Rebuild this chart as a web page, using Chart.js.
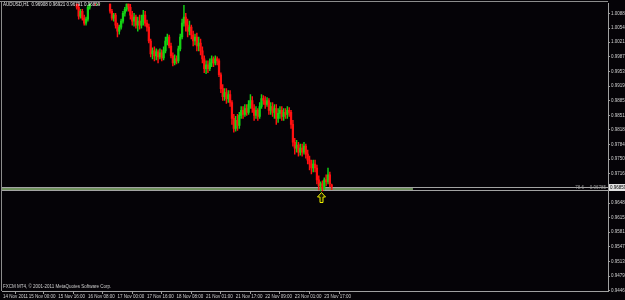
<!DOCTYPE html>
<html>
<head>
<meta charset="utf-8">
<script src="https://cdn.jsdelivr.net/npm/chart.js@4.4.1/dist/chart.umd.min.js"></script>
<style>
  html, body { margin: 0; padding: 0; background: #050307; }
  canvas { display: block; }
</style>
</head>
<body>
<canvas id="chart" width="625" height="300" style="width:625px;height:300px"></canvas>
<script>
// AUDUSD H1, 14-23 Nov 2011
const symbolTitle = 'AUDUSD,H1  0.96908 0.96921 0.96791 0.96859';
const copyrightText = 'FXCM MT4, \u00a9 2001-2011 MetaQuotes Software Corp.';

const firstBar = 39;
const opens = [
  1.01620, 1.01344, 1.01022, 1.00815, 1.00930, 1.00769, 1.00654, 1.00746, 1.01022, 1.01206,
  1.01344, 1.01229, 1.01114, 1.01183, 1.01137, 1.01298, 1.01482, 1.01390, 1.01528, 1.01252,
  1.00930, 1.00769, 1.00838, 1.00608, 1.00470, 1.00562, 1.00700, 1.00884, 1.00976, 1.01114,
  1.01022, 1.00838, 1.00700, 1.00792, 1.00608, 1.00700, 1.00608, 1.00700, 1.00838, 1.00654,
  1.00562, 1.00240, 0.99941, 1.00010, 0.99895, 0.99987, 0.99872, 0.99964, 0.99849, 1.00010,
  1.00240, 1.00332, 1.00125, 0.99895, 0.99734, 0.99826, 0.99780, 1.00056, 1.00332, 1.00654,
  1.00792, 1.00608, 1.00470, 1.00562, 1.00378, 1.00240, 1.00332, 1.00125, 1.00194, 1.00010,
  0.99826, 0.99596, 0.99688, 0.99596, 0.99734, 0.99826, 0.99734, 0.99826, 0.99780, 0.99458,
  0.99136, 0.98952, 0.99044, 0.98906, 0.98998, 0.98814, 0.98446, 0.98216, 0.98400, 0.98285,
  0.98515, 0.98630, 0.98538, 0.98676, 0.98584, 0.98768, 0.98860, 0.98676, 0.98515, 0.98630,
  0.98492, 0.98722, 0.98906, 0.98860, 0.98768, 0.98860, 0.98630, 0.98722, 0.98584, 0.98676,
  0.98446, 0.98561, 0.98630, 0.98492, 0.98584, 0.98538, 0.98630, 0.98584, 0.98308, 0.97894,
  0.97756, 0.97825, 0.97664, 0.97756, 0.97664, 0.97802, 0.97618, 0.97480, 0.97388, 0.97296,
  0.97388, 0.97296, 0.97020, 0.96882, 0.96928, 0.96836, 0.97020, 0.96974, 0.97135, 0.96908
];
const highs = [
  1.01666, 1.01390, 1.01091, 1.00976, 1.00976, 1.00838, 1.00792, 1.01068, 1.01275, 1.01436,
  1.01390, 1.01275, 1.01229, 1.01252, 1.01344, 1.01528, 1.01574, 1.01620, 1.01574, 1.01298,
  1.00976, 1.00884, 1.00884, 1.00654, 1.00608, 1.00746, 1.00930, 1.01022, 1.01160, 1.01183,
  1.01091, 1.00930, 1.00884, 1.00838, 1.00792, 1.00838, 1.00838, 1.00953, 1.00930, 1.00723,
  1.00631, 1.00286, 1.00079, 1.00102, 1.00056, 1.00033, 1.00056, 1.00033, 1.00102, 1.00332,
  1.00401, 1.00378, 1.00194, 0.99964, 0.99918, 0.99895, 1.00125, 1.00401, 1.00746, 1.01068,
  1.00884, 1.00746, 1.00700, 1.00608, 1.00470, 1.00401, 1.00424, 1.00332, 1.00286, 1.00102,
  0.99895, 0.99780, 0.99780, 0.99826, 0.99895, 0.99872, 0.99895, 0.99872, 0.99826, 0.99504,
  0.99228, 0.99136, 0.99136, 0.99090, 0.99090, 0.98860, 0.98538, 0.98492, 0.98538, 0.98584,
  0.98722, 0.98722, 0.98768, 0.98768, 0.98860, 0.98998, 0.98952, 0.98768, 0.98722, 0.98676,
  0.98814, 0.98998, 0.98975, 0.98952, 0.98929, 0.98906, 0.98814, 0.98814, 0.98768, 0.98768,
  0.98676, 0.98722, 0.98722, 0.98676, 0.98676, 0.98722, 0.98699, 0.98630, 0.98400, 0.97986,
  0.97940, 0.97894, 0.97848, 0.97848, 0.97894, 0.97848, 0.97710, 0.97572, 0.97480, 0.97480,
  0.97480, 0.97365, 0.97112, 0.96974, 0.96997, 0.97066, 0.97135, 0.97296, 0.97204, 0.96921
];
const lows = [
  1.01298, 1.00976, 1.00746, 1.00769, 1.00723, 1.00608, 1.00608, 1.00700, 1.00976, 1.01160,
  1.01183, 1.01068, 1.01068, 1.01091, 1.01114, 1.01252, 1.01344, 1.01344, 1.01206, 1.00884,
  1.00723, 1.00700, 1.00539, 1.00332, 1.00401, 1.00516, 1.00654, 1.00815, 1.00930, 1.00930,
  1.00746, 1.00608, 1.00585, 1.00539, 1.00470, 1.00516, 1.00539, 1.00608, 1.00585, 1.00470,
  1.00194, 0.99872, 0.99826, 0.99780, 0.99803, 0.99734, 0.99826, 0.99780, 0.99803, 0.99964,
  1.00148, 1.00079, 0.99849, 0.99665, 0.99688, 0.99711, 0.99734, 1.00010, 1.00286, 1.00585,
  1.00470, 1.00332, 1.00378, 1.00286, 1.00125, 1.00148, 1.00010, 1.00010, 0.99918, 0.99734,
  0.99504, 0.99481, 0.99504, 0.99550, 0.99642, 0.99642, 0.99688, 0.99688, 0.99412, 0.99044,
  0.98860, 0.98860, 0.98791, 0.98814, 0.98722, 0.98308, 0.98124, 0.98147, 0.98170, 0.98216,
  0.98446, 0.98446, 0.98492, 0.98515, 0.98538, 0.98676, 0.98584, 0.98400, 0.98446, 0.98400,
  0.98446, 0.98676, 0.98768, 0.98676, 0.98722, 0.98538, 0.98538, 0.98492, 0.98446, 0.98308,
  0.98354, 0.98446, 0.98400, 0.98400, 0.98446, 0.98446, 0.98492, 0.98216, 0.97802, 0.97618,
  0.97664, 0.97572, 0.97595, 0.97572, 0.97618, 0.97526, 0.97388, 0.97250, 0.97158, 0.97204,
  0.97204, 0.96928, 0.96790, 0.96767, 0.96767, 0.96790, 0.96882, 0.96928, 0.96859, 0.96791
];
const closes = [
  1.01344, 1.01022, 1.00815, 1.00930, 1.00769, 1.00654, 1.00746, 1.01022, 1.01206, 1.01344,
  1.01229, 1.01114, 1.01183, 1.01137, 1.01298, 1.01482, 1.01390, 1.01528, 1.01252, 1.00930,
  1.00769, 1.00838, 1.00608, 1.00470, 1.00562, 1.00700, 1.00884, 1.00976, 1.01114, 1.01022,
  1.00838, 1.00700, 1.00792, 1.00608, 1.00700, 1.00608, 1.00700, 1.00838, 1.00654, 1.00562,
  1.00240, 0.99941, 1.00010, 0.99895, 0.99987, 0.99872, 0.99964, 0.99849, 1.00010, 1.00240,
  1.00332, 1.00125, 0.99895, 0.99734, 0.99826, 0.99780, 1.00056, 1.00332, 1.00654, 1.00792,
  1.00608, 1.00470, 1.00562, 1.00378, 1.00240, 1.00332, 1.00125, 1.00194, 1.00010, 0.99826,
  0.99596, 0.99688, 0.99596, 0.99734, 0.99826, 0.99734, 0.99826, 0.99780, 0.99458, 0.99136,
  0.98952, 0.99044, 0.98906, 0.98998, 0.98814, 0.98446, 0.98216, 0.98400, 0.98285, 0.98515,
  0.98630, 0.98538, 0.98676, 0.98584, 0.98768, 0.98860, 0.98676, 0.98515, 0.98630, 0.98492,
  0.98722, 0.98906, 0.98860, 0.98768, 0.98860, 0.98630, 0.98722, 0.98584, 0.98676, 0.98446,
  0.98561, 0.98630, 0.98492, 0.98584, 0.98538, 0.98630, 0.98584, 0.98308, 0.97894, 0.97756,
  0.97825, 0.97664, 0.97756, 0.97664, 0.97802, 0.97618, 0.97480, 0.97388, 0.97296, 0.97388,
  0.97296, 0.97020, 0.96882, 0.96928, 0.96836, 0.97020, 0.96974, 0.97135, 0.96928, 0.96859
];

const priceTicks = [
  1.00881, 1.00541, 1.00211, 0.99871, 0.99531, 0.99191, 0.98851, 0.98511, 0.98181, 0.97841,
  0.97501, 0.97161, 0.96481, 0.96151, 0.95811, 0.95471, 0.95131, 0.94791, 0.94461
];
const timeTickBars = [0, 14, 30, 46, 62, 78, 94, 110, 126, 142, 158, 174];
const timeLabels = [
  '14 Nov 2011', '15 Nov 00:00', '15 Nov 16:00', '16 Nov 08:00', '17 Nov 00:00', '17 Nov 16:00',
  '18 Nov 08:00', '21 Nov 01:00', '21 Nov 17:00', '22 Nov 09:00', '23 Nov 01:00', '23 Nov 17:00'
];

const bidPrice = 0.96859;
const fibLevel = 0.96785;
const fibName = '78.6';
const fibBandEndBar = 222;
const arrowBar = 172;
const arrowPrice = 0.96767;

const BULL = '#14d214';
const BEAR = '#ff1010';
const FONT = 'Liberation Sans, Arial, sans-serif';

const candleColor = (k) => closes[k] >= opens[k] ? BULL : BEAR;

const _wickData = () => lows.map((l, k) => ({ x: firstBar + k, y: [l, highs[k]] }));
const _bodyData = () => opens.map((o, k) => ({ x: firstBar + k, y: [o, closes[k]] }));

const mt4Decor = {
    id: 'mt4Decor',
    beforeDraw(chart) {
        const ctx = chart.ctx;
        ctx.save();
        ctx.fillStyle = '#050307';
        ctx.fillRect(0, 0, chart.width, chart.height);
        ctx.restore();
    },
    beforeDatasetsDraw(chart) {
        const { ctx, chartArea: a, scales: { x, y } } = chart;
        const by = Math.round(y.getPixelForValue(bidPrice));
        const fy = Math.round(y.getPixelForValue(fibLevel));
        const fx = x.getPixelForValue(fibBandEndBar);
        ctx.save();
        ctx.fillStyle = '#6f905d';
        ctx.fillRect(a.left, by + 1, fx - a.left, fy - by - 1);
        ctx.fillStyle = '#a3a3a3';
        ctx.fillRect(a.left, by, a.right - a.left, 1);
        ctx.fillRect(a.left, fy, a.right - a.left, 1);
        ctx.restore();
    },
    afterDraw(chart) {
        const { ctx, chartArea: a, scales: { x, y } } = chart;
        ctx.save();

        // frame
        ctx.strokeStyle = '#8c8c8c';
        ctx.lineWidth = 1;
        ctx.beginPath();
        ctx.moveTo(0, 1.5); ctx.lineTo(a.right, 1.5);
        ctx.moveTo(1.5, 1); ctx.lineTo(1.5, a.bottom);
        ctx.stroke();

        // arrow under the low
        const cx = Math.round(x.getPixelForValue(arrowBar)) + 0.5;
        const t = Math.round(y.getPixelForValue(arrowPrice)) + 1.5;
        ctx.beginPath();
        ctx.moveTo(cx, t);
        ctx.lineTo(cx + 4, t + 4.5);
        ctx.lineTo(cx + 1.5, t + 4.5);
        ctx.lineTo(cx + 1.5, t + 10);
        ctx.lineTo(cx - 1.5, t + 10);
        ctx.lineTo(cx - 1.5, t + 4.5);
        ctx.lineTo(cx - 4, t + 4.5);
        ctx.closePath();
        ctx.fillStyle = '#202000';
        ctx.fill();
        ctx.strokeStyle = '#f0f000';
        ctx.stroke();

        // texts
        ctx.font = '4.5px ' + FONT;
        ctx.textBaseline = 'middle';
        ctx.textAlign = 'left';
        ctx.fillStyle = '#e4e4e4';
        ctx.fillText(symbolTitle, 3, 5);
        ctx.fillStyle = '#cfcfcf';
        ctx.fillText(copyrightText, 3, 287);

        const by = y.getPixelForValue(bidPrice);
        const fy = y.getPixelForValue(fibLevel);
        ctx.fillStyle = '#9c9c9c';
        ctx.textAlign = 'right';
        ctx.fillText(fibLevel.toFixed(5), a.right - 2, fy - 2);
        ctx.fillText(fibName, a.right - 24, fy - 2);

        // bid price box
        ctx.fillStyle = '#e2e2e2';
        ctx.fillRect(a.right + 1, Math.round(by) - 3, chart.width - a.right - 1, 7);
        ctx.fillStyle = '#000000';
        ctx.textAlign = 'left';
        ctx.fillText(bidPrice.toFixed(5), a.right + 2, Math.round(by) + 0.5);

        ctx.restore();
    }
};

const _createChart = (canvas) => {
    return new Chart(canvas, {
        type: 'bar',
        data: {
            datasets: [
                {
                    label: 'wicks',
                    data: _wickData(),
                    backgroundColor: (c) => candleColor(c.dataIndex),
                    barThickness: 0.8,
                    grouped: false,
                    clip: 0,
                    order: 2,
                },
                {
                    label: 'bodies',
                    data: _bodyData(),
                    backgroundColor: (c) => candleColor(c.dataIndex),
                    barThickness: 1.6,
                    grouped: false,
                    clip: 0,
                    order: 1,
                }
            ]
        },
        options: {
            responsive: false,
            devicePixelRatio: 1,
            animation: false,
            events: [],
            layout: { padding: { left: 2, top: 2, right: 0, bottom: 0 } },
            plugins: {
                legend: { display: false },
                tooltip: { enabled: false },
                title: { display: false },
            },
            scales: {
                x: {
                    type: 'linear',
                    min: -0.5,
                    max: 327.6,
                    offset: false,
                    afterFit: (s) => { s.height = 9; },
                    afterBuildTicks: (s) => { s.ticks = timeTickBars.map(v => ({ value: v })); },
                    grid: {
                        display: true,
                        drawOnChartArea: false,
                        drawTicks: true,
                        tickLength: 3,
                        tickColor: '#a0a0a0',
                    },
                    border: { display: true, color: '#a0a0a0', width: 1 },
                    ticks: {
                        autoSkip: false,
                        maxRotation: 0,
                        minRotation: 0,
                        align: 'start',
                        padding: 0,
                        color: '#d2d2d2',
                        font: { family: FONT, size: 4.5 },
                        callback: (v) => timeLabels[timeTickBars.indexOf(v)],
                    },
                },
                y: {
                    position: 'right',
                    min: 0.94445,
                    max: 1.011045,
                    afterFit: (s) => { s.width = 17; },
                    afterBuildTicks: (s) => { s.ticks = priceTicks.map(v => ({ value: v })); },
                    grid: {
                        display: true,
                        drawOnChartArea: false,
                        drawTicks: true,
                        tickLength: 2,
                        tickColor: '#a0a0a0',
                    },
                    border: { display: true, color: '#a0a0a0', width: 1 },
                    ticks: {
                        autoSkip: false,
                        padding: 1,
                        color: '#d2d2d2',
                        font: { family: FONT, size: 4.5 },
                        callback: (v) => v.toFixed(5),
                    },
                },
            },
        },
        plugins: [mt4Decor],
    });
};

_createChart(document.getElementById('chart'));
</script>
</body>
</html>
